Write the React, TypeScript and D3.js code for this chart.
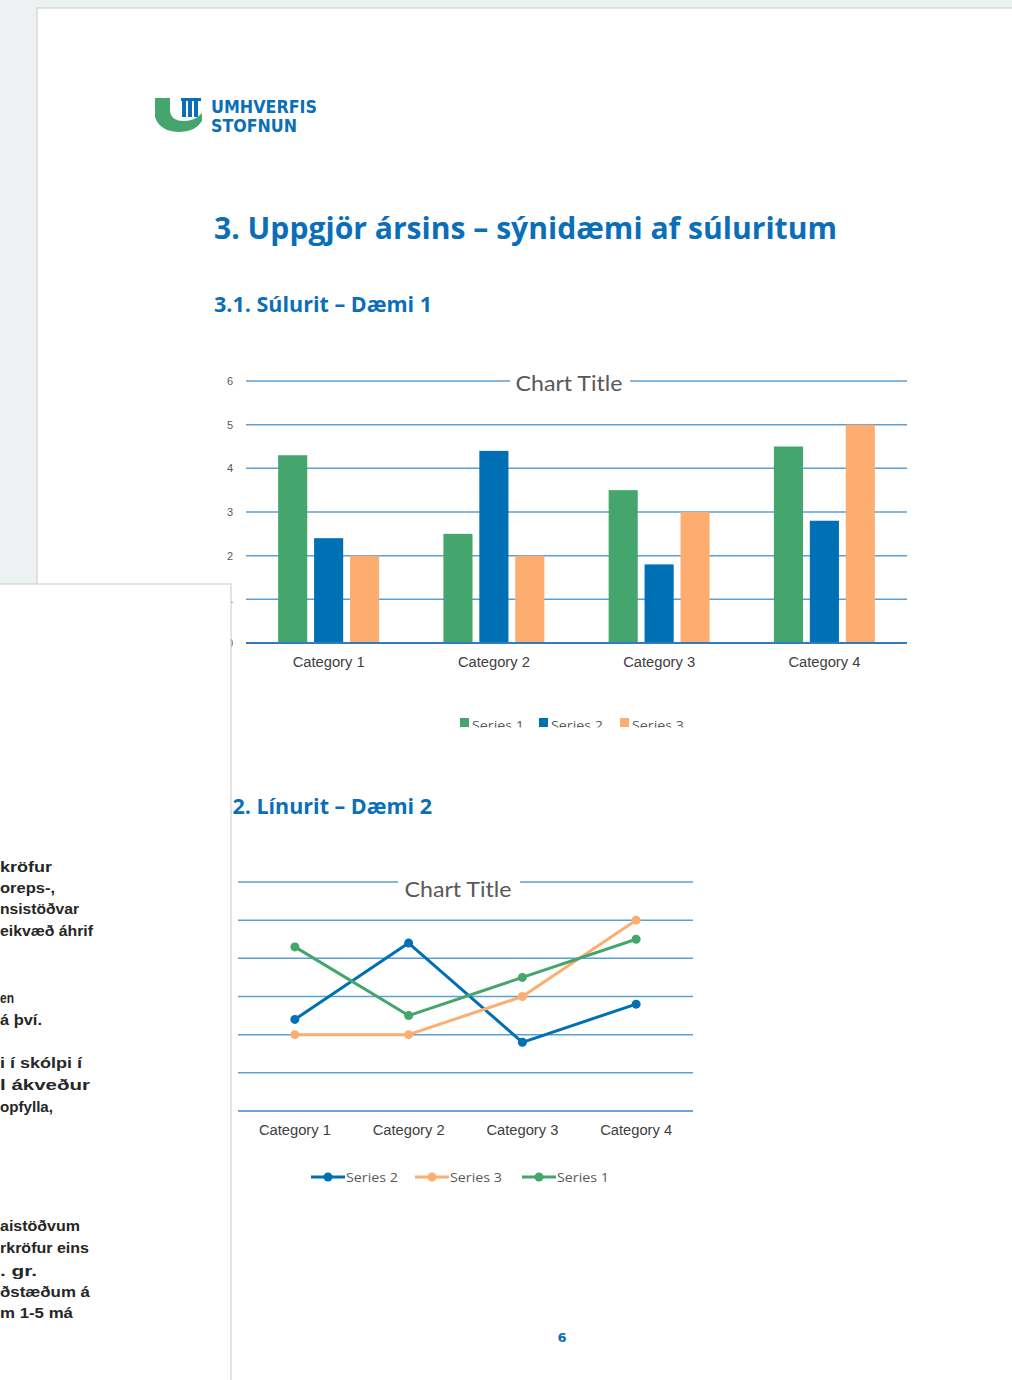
import React from "react";
import * as d3 from "d3";

// chart data
const categories = ["Category 1", "Category 2", "Category 3", "Category 4"];
const seriesNames = ["Series 1", "Series 2", "Series 3"];
const series1 = [4.3, 2.5, 3.5, 4.5];
const series2 = [2.4, 4.4, 1.8, 2.8];
const series3 = [2.0, 2.0, 3.0, 5.0];
const yTicks = [0, 1, 2, 3, 4, 5, 6];
const lineLegendOrder = ["Series 2", "Series 3", "Series 1"];

// text fragments of the page underneath (cut by the window edge)
const sideLines = [
  { t: "kröfur", x: 52, y: 867 },
  { t: "oreps-,", x: 55, y: 888 },
  { t: "nsistöðvar", x: 79, y: 909 },
  { t: "eikvæð áhrif", x: 93, y: 931 },
  { t: "en", x: 14, y: 998 },
  { t: "á því.", x: 42, y: 1020 },
  { t: "i í skólpi í", x: 82, y: 1063 },
  { t: "l ákveður", x: 90, y: 1085 },
  { t: "opfylla,", x: 53, y: 1107 },
  { t: "aistöðvum", x: 80, y: 1226 },
  { t: "rkröfur eins", x: 89, y: 1248 },
  { t: ". gr.", x: 37, y: 1271 },
  { t: "ðstæðum á", x: 90, y: 1292 },
  { t: "m 1-5 má", x: 73, y: 1313 },
];

const colors: Record<string, string> = {
  "Series 1": "#44a66c",
  "Series 2": "#0070b4",
  "Series 3": "#fdad6f",
};
const grid = "#5b9fd6";
const blue = "#0a6fb8";
const labelFont = "'Liberation Sans', Arial, sans-serif";

const values: Record<string, number[]> = {
  "Series 1": series1,
  "Series 2": series2,
  "Series 3": series3,
};

function BarChart() {
  const x0 = d3
    .scaleBand<string>()
    .domain(categories)
    .range([246, 907])
    .paddingInner(0.389)
    .paddingOuter(0.1945);
  const x1 = d3
    .scaleBand<string>()
    .domain(seriesNames)
    .range([0, x0.bandwidth()])
    .paddingInner(0.19);
  const y = d3.scaleLinear().domain([0, 6]).range([643, 381]);

  const legendX = [460, 539, 620];

  return (
    <g>
      {yTicks.map((t) => (
        <line
          key={t}
          x1={246}
          x2={907}
          y1={y(t)}
          y2={y(t)}
          stroke={t === 0 ? "#2f7cc0" : grid}
          strokeWidth={t === 0 ? 2 : 1.5}
        />
      ))}
      {yTicks.map((t) => (
        <text
          key={t}
          x={233}
          y={y(t) + 4}
          textAnchor="end"
          fontFamily={labelFont}
          fontSize={11}
          fill="#595959"
        >
          {t}
        </text>
      ))}
      <rect x={510} y={370} width={120} height={26} fill="#fff" />
      <text
        x={569}
        y={391}
        textAnchor="middle"
        fontFamily="Lato, 'Open Sans', sans-serif"
        fontSize={21}
        fill="#595959"
        textLength={107}
        lengthAdjust="spacingAndGlyphs"
      >
        Chart Title
      </text>
      {categories.map((c, i) => (
        <g key={c} transform={`translate(${x0(c)},0)`}>
          {seriesNames.map((s) => (
            <rect
              key={s}
              x={x1(s)}
              y={y(values[s][i])}
              width={x1.bandwidth()}
              height={y(0) - y(values[s][i])}
              fill={colors[s]}
            />
          ))}
        </g>
      ))}
      <line x1={246} x2={907} y1={y(0)} y2={y(0)} stroke="#2f7cc0" strokeWidth={2} />
      {categories.map((c) => (
        <text
          key={c}
          x={(x0(c) ?? 0) + x0.bandwidth() / 2}
          y={667}
          textAnchor="middle"
          fontFamily={labelFont}
          fontSize={14}
          fill="#404040"
          textLength={72}
          lengthAdjust="spacingAndGlyphs"
        >
          {c}
        </text>
      ))}
      <defs>
        <clipPath id="legClip">
          <rect x={440} y={700} width={280} height={27.5} />
        </clipPath>
      </defs>
      <g clipPath="url(#legClip)">
        {seriesNames.map((s, i) => (
          <g key={s}>
            <rect x={legendX[i]} y={718} width={9} height={9} fill={colors[s]} />
            <text
              x={legendX[i] + 12}
              y={729.5}
              fontFamily="'Open Sans', sans-serif"
              fontSize={12.5}
              fill="#595959"
              textLength={52}
              lengthAdjust="spacingAndGlyphs"
            >
              {s}
            </text>
          </g>
        ))}
      </g>
    </g>
  );
}

function LineChart() {
  const x = d3.scaleBand<string>().domain(categories).range([238, 693]);
  const y = d3.scaleLinear().domain([0, 6]).range([1111, 882]);
  const cx = (c: string) => (x(c) ?? 0) + x.bandwidth() / 2;
  const line = d3
    .line<number>()
    .x((_, i) => cx(categories[i]))
    .y((d) => y(d));

  const legendX = [311, 415, 522];

  return (
    <g>
      {yTicks.map((t) => (
        <line
          key={t}
          x1={238}
          x2={693}
          y1={y(t)}
          y2={y(t)}
          stroke={t === 0 ? "#3f86c6" : grid}
          strokeWidth={1.5}
        />
      ))}
      <rect x={398} y={872} width={122} height={26} fill="#fff" />
      <text
        x={458}
        y={897}
        textAnchor="middle"
        fontFamily="Lato, 'Open Sans', sans-serif"
        fontSize={21}
        fill="#595959"
        textLength={107}
        lengthAdjust="spacingAndGlyphs"
      >
        Chart Title
      </text>
      {lineLegendOrder.map((s) => (
        <g key={s}>
          <path
            d={line(values[s]) ?? ""}
            fill="none"
            stroke={colors[s]}
            strokeWidth={3}
            strokeLinejoin="round"
          />
          {values[s].map((v, i) => (
            <circle key={i} cx={cx(categories[i])} cy={y(v)} r={4.5} fill={colors[s]} />
          ))}
        </g>
      ))}
      {categories.map((c) => (
        <text
          key={c}
          x={cx(c)}
          y={1135}
          textAnchor="middle"
          fontFamily={labelFont}
          fontSize={14}
          fill="#404040"
          textLength={72}
          lengthAdjust="spacingAndGlyphs"
        >
          {c}
        </text>
      ))}
      {lineLegendOrder.map((s, i) => (
        <g key={s}>
          <line
            x1={legendX[i]}
            x2={legendX[i] + 34}
            y1={1177}
            y2={1177}
            stroke={colors[s]}
            strokeWidth={3}
          />
          <circle cx={legendX[i] + 17} cy={1177} r={4.5} fill={colors[s]} />
          <text
            x={legendX[i] + 35}
            y={1181.5}
            fontFamily="'Open Sans', sans-serif"
            fontSize={12.5}
            fill="#595959"
            textLength={52}
            lengthAdjust="spacingAndGlyphs"
          >
            {s}
          </text>
        </g>
      ))}
    </g>
  );
}

function Logo() {
  return (
    <g>
      <path
        d="M155,98 L170,98 L170,111 Q171,121 184,121 Q195,121 202,113 L202,121 Q195,132 180,132 Q160,132 155,117 Z"
        fill="#44a66c"
      />
      {[182, 188, 194].map((bx) => (
        <rect key={bx} x={bx} y={98} width={4} height={19} fill="#0a6fb8" />
      ))}
      <rect x={181} y={98} width={20} height={3} fill="#0a6fb8" />
      <text
        x={211}
        y={113}
        fontFamily="'DejaVu Sans', sans-serif"
        fontWeight="bold"
        fontSize={17}
        fill={blue}
        textLength={106}
        lengthAdjust="spacingAndGlyphs"
      >
        UMHVERFIS
      </text>
      <text
        x={211}
        y={132}
        fontFamily="'DejaVu Sans', sans-serif"
        fontWeight="bold"
        fontSize={17}
        fill={blue}
        textLength={86}
        lengthAdjust="spacingAndGlyphs"
      >
        STOFNUN
      </text>
    </g>
  );
}

export default function App() {
  const headFont = "'Open Sans', 'DejaVu Sans', sans-serif";
  return (
    <svg
      width={1012}
      height={1380}
      style={{ position: "absolute", left: 0, top: 0, display: "block" }}
    >
      <rect width={1012} height={1380} fill="#edf1f2" />
      <rect x={37} y={8} width={990} height={1400} fill="#fff" stroke="#c9c9c9" strokeWidth={1} />
      <Logo />
      <text
        x={214}
        y={239}
        fontFamily={headFont}
        fontWeight="bold"
        fontSize={31}
        fill={blue}
        textLength={623}
        lengthAdjust="spacingAndGlyphs"
      >
        3. Uppgjör ársins – sýnidæmi af súluritum
      </text>
      <text
        x={214}
        y={312}
        fontFamily={headFont}
        fontWeight="bold"
        fontSize={21}
        fill={blue}
        textLength={218}
        lengthAdjust="spacingAndGlyphs"
      >
        3.1. Súlurit – Dæmi 1
      </text>
      <BarChart />
      <text
        x={214}
        y={814}
        fontFamily={headFont}
        fontWeight="bold"
        fontSize={21}
        fill={blue}
        textLength={218}
        lengthAdjust="spacingAndGlyphs"
      >
        3.2. Línurit – Dæmi 2
      </text>
      <LineChart />
      <text
        x={562}
        y={1342}
        textAnchor="middle"
        fontFamily="'DejaVu Sans', sans-serif"
        fontWeight="bold"
        fontSize={13}
        fill={blue}
      >
        6
      </text>
      {/* page underneath, overlapping on the left */}
      <rect x={-10} y={584} width={241} height={820} fill="#fff" stroke="#c9c9c9" strokeWidth={1} />
      {sideLines.map((l) => (
        <text
          key={l.t}
          x={0}
          y={l.y + 5}
          fontFamily="'Liberation Sans', Arial, sans-serif"
          fontWeight="bold"
          fontSize={15}
          fill="#262626"
          textLength={l.x}
          lengthAdjust="spacingAndGlyphs"
        >
          {l.t}
        </text>
      ))}
    </svg>
  );
}
